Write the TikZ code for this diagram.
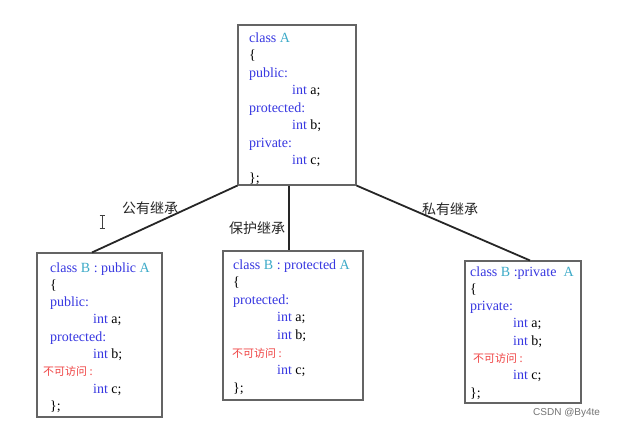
\documentclass[tikz,border=0pt]{standalone}
\usepackage{fontspec}
\setmainfont{Liberation Serif}
\newfontfamily\cjk{Noto Sans CJK SC}
\newfontfamily\wmfont{Liberation Sans}
\usetikzlibrary{calc}
\definecolor{kwblue}{RGB}{55,55,225}
\definecolor{cyanA}{RGB}{60,170,200}
\definecolor{redtxt}{RGB}{240,70,70}
\definecolor{boxgray}{RGB}{100,100,100}
\newcommand\cA[1]{\textcolor{cyanA}{#1}}
\newcommand\bk[1]{\textcolor{black}{#1}}
\newcommand\nf[1]{\textcolor{redtxt}{\fontsize{11}{13}\selectfont\cjk #1}}
\begin{document}
\begin{tikzpicture}[x=1pt,y=-1pt,
  classbox/.style={draw=boxgray,line width=1.1pt,fill=white,inner sep=0pt},
  code/.style={anchor=base west,inner sep=0pt,text=kwblue,font=\fontsize{14}{17}\selectfont},
  conn/.style={line width=1.8pt,black!85},
  lab/.style={font=\fontsize{14}{16}\selectfont\cjk,text=black!85,inner sep=0pt}]
\useasboundingbox (0,0) rectangle (618,429);
% boxes
\node[classbox,minimum width=118pt,minimum height=160pt] (A) at (297,105) {};
\node[classbox,minimum width=125pt,minimum height=164pt] (B1) at (99.5,335) {};
\node[classbox,minimum width=140pt,minimum height=149pt] (B2) at (293,325.5) {};
\node[classbox,minimum width=116pt,minimum height=142pt] (B3) at (523,332) {};
% box A text
\foreach \dx/\t [count=\k from 0] in {0/{class \cA{A}},0/{\bk{\{}},0/{public:},43/{int \bk{a;}},0/{protected:},43/{int \bk{b;}},0/{private:},43/{int \bk{c;}},0/{\bk{\};}}}
  \node[code] (a\k) at (249+\dx,42+17.5*\k) {\t};
% box B1 text
\foreach \dx/\t [count=\k from 0] in {7/{class \cA{B} : public \cA{A}},7/{\bk{\{}},7/{public:},50/{int \bk{a;}},7/{protected:},50/{int \bk{b;}},0/{\nf{不可访问 :}},50/{int \bk{c;}},7/{\bk{\};}}}
  \node[code] (b\k) at (43+\dx,272+17.3*\k) {\t};
% box B2 text
\foreach \dx/\t [count=\k from 0] in {1/{class \cA{B} : protected \cA{A}},1/{\bk{\{}},1/{protected:},45/{int \bk{a;}},45/{int \bk{b;}},0/{\nf{不可访问 :}},45/{int \bk{c;}},1/{\bk{\};}}}
  \node[code] (c\k) at (232+\dx,269+17.6*\k) {\t};
% box B3 text
\foreach \dx/\t [count=\k from 0] in {0/{class \cA{B} :private \ \cA{A}},0/{\bk{\{}},0/{private:},43/{int \bk{a;}},43/{int \bk{b;}},3/{\nf{不可访问 :}},43/{int \bk{c;}},0/{\bk{\};}}}
  \node[code] (d\k) at (470+\dx,276+17.3*\k) {\t};
% connectors
\draw[conn] (A.south west) -- ($(B1.north)+(-7.5,0)$);
\draw[conn] ($(A.south)+(-8,0)$) -- ($(B2.north)+(-4,0)$);
\draw[conn] (A.south east) -- ($(B3.north)+(7,0)$);
% labels
\node[lab] (l1) at (150,208) {公有继承};
\node[lab] (l2) at (257,228) {保护继承};
\node[lab] (l3) at (450,209) {私有继承};
% cursor
\draw[line width=0.9pt,black!75] (102,216) -- (102,228) (99.5,215.5) -- (104.5,215.5) (99.5,228.5) -- (104.5,228.5);
% watermark
\node[font=\fontsize{10}{12}\selectfont\wmfont,text=black!55,anchor=west,inner sep=0pt] (wm) at (533,413) {CSDN @By4te};
\end{tikzpicture}
\end{document}
